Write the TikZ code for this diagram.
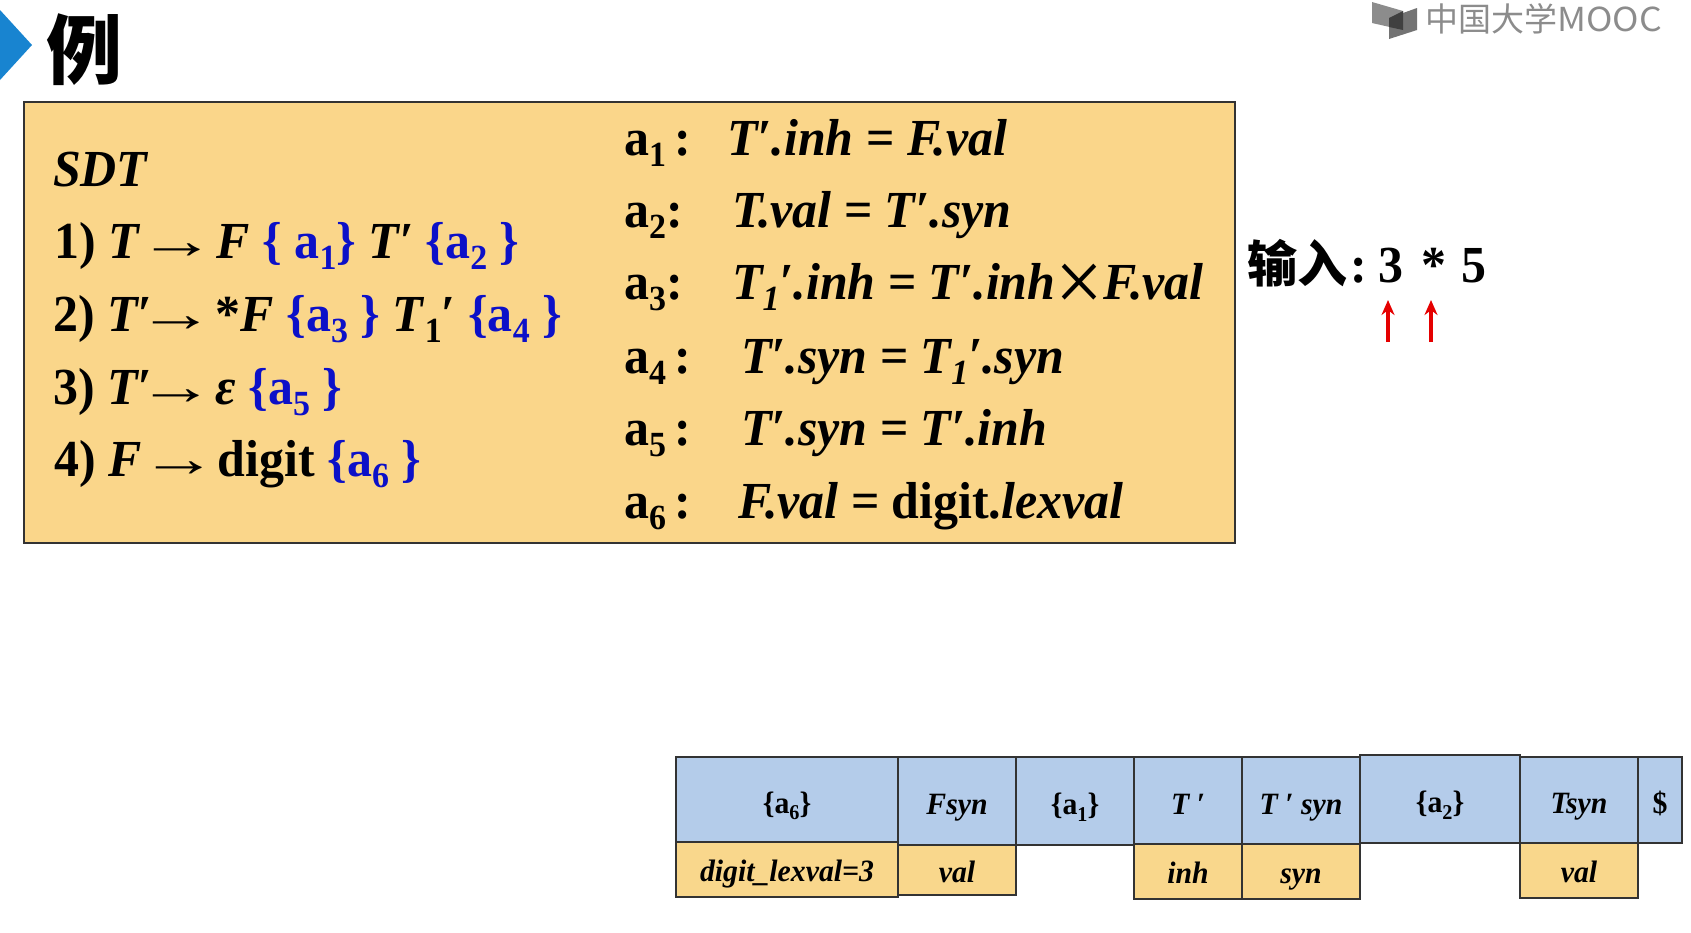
\documentclass[tikz,border=0pt]{standalone}
\usepackage{fontspec}
\setmainfont{Liberation Serif}[FakeStretch=0.96]
\newfontfamily\cjk{Noto Sans CJK SC}
\usepackage{tikz}
\usetikzlibrary{arrows.meta}
\definecolor{boxyellow}{RGB}{250,214,138}
\definecolor{cellblue}{RGB}{180,204,234}
\definecolor{cellyellow}{RGB}{249,215,140}
\definecolor{actblue}{RGB}{12,16,200}
\definecolor{tipblue}{RGB}{24,132,208}
\newcommand{\lowtxt}[1]{\raisebox{-.22em}{\scalebox{.68}{#1}}}
\newcommand{\acttxt}[1]{\textcolor{actblue}{#1}}
\newcommand{\longto}{\hspace{-14pt}\scalebox{1.55}[1]{→}\hspace{-12pt}}
\newcommand{\bigtimes}{\raisebox{-.24em}{\scalebox{1.7}{\textnormal{×}}}}
\tikzset{
	rowtext/.style={anchor=base west,inner sep=0pt,font=\fontsize{52}{52}\selectfont\bfseries},
	cell/.style={draw=black!80,line width=1.4pt,anchor=north west,inner sep=0pt,outer sep=0pt,text depth=0pt,font=\fontsize{31}{31}\selectfont\bfseries},
	redarrow/.style={red!90!black,line width=3.2pt,-{Stealth[length=15pt,width=13pt]}}
}
\begin{document}
\begin{tikzpicture}[x=1pt,y=-1pt]
	\useasboundingbox (0,0) rectangle (1691,932);
	\fill[tipblue] (0,10) -- (32,45) -- (0,80) -- cycle;
	\node[inner sep=0pt,font=\fontsize{76}{76}\selectfont\cjk\bfseries] (title) at (84,50) {例};
	\fill[black!45] (1372,2) -- (1403,11) -- (1403,30) -- (1372,23) -- cycle;
	\fill[black!55] (1389,18) -- (1417,8) -- (1417,30) -- (1389,39) -- cycle;
	\fill[black!75] (1389,18) -- (1403,11) -- (1403,30) -- (1389,27) -- cycle;
	\node[inner sep=0pt,anchor=west,text=black!45,font=\fontsize{33}{33}\selectfont\cjk] (logo) at (1425,19) {中国大学\scalebox{1.08}[1]{MOOC}};
	\node[draw=black!80,line width=1.6pt,fill=boxyellow,anchor=north west,inner sep=0pt,outer sep=0pt,minimum width=1211pt,minimum height=441pt] (sdtbox) at (24,102) {};
	\node[rowtext] (sdt) at (53,186) {\textit{SDT}};
	\node[rowtext] (rule1) at (54,258) {1) \textit{T} \longto{} \textit{F} \acttxt{\{ a\lowtxt{1}\}} \textit{T′} \acttxt{\{a\lowtxt{2} \}}};
	\node[rowtext] (rule2) at (53,331) {2) \textit{T′}\longto{} *\textit{F} \acttxt{\{a\lowtxt{3} \}} \textit{T}\lowtxt{1}′ \acttxt{\{a\lowtxt{4} \}}};
	\node[rowtext] (rule3) at (53,404) {3) \textit{T′}\longto{} \textit{ε} \acttxt{\{a\lowtxt{5} \}}};
	\node[rowtext] (rule4) at (54,476) {4) \textit{F} \longto{} digit \acttxt{\{a\lowtxt{6} \}}};
	\foreach \actname/\y/\x/\txt in {
		one/155/727/{\textit{T′.inh} = \textit{F.val}},
		two/227/732/{\textit{T.val} = \textit{T′.syn}},
		three/299/732/{\textit{T\lowtxt{1}′.inh} = \textit{T′.inh}\bigtimes\textit{F.val}},
		four/373/741/{\textit{T′.syn} = \textit{T\lowtxt{1}′.syn}},
		five/445/741/{\textit{T′.syn} = \textit{T′.inh}},
		six/518/738/{\textit{F.val} = digit.\textit{lexval}}}{
		\node[rowtext] (act\actname) at (\x,\y) {\txt};
	}
	\node[rowtext] (aone) at (624,155) {a\lowtxt{1}\hspace{-4pt} :};
	\node[rowtext] (atwo) at (624,227) {a\lowtxt{2}:};
	\node[rowtext] (athree) at (624,299) {a\lowtxt{3}:};
	\node[rowtext] (afour) at (624,373) {a\lowtxt{4}\hspace{-4pt} :};
	\node[rowtext] (afive) at (624,445) {a\lowtxt{5}\hspace{-4pt} :};
	\node[rowtext] (asix) at (624,518) {a\lowtxt{6}\hspace{-4pt} :};
	\node[rowtext] (input) at (1247,282) {{\cjk\fontsize{50}{50}\selectfont 输入}\hspace{3pt}:\hspace{12pt}3\hspace{5pt} * \hspace{3pt}5};
	\coordinate (low1) at (1388,342);
	\coordinate (top1) at (1388,300);
	\coordinate (low2) at (1431,342);
	\coordinate (top2) at (1431,300);
	\draw[redarrow] (low1) -- (top1);
	\draw[redarrow] (low2) -- (top2);
	\foreach \cellname/\x/\y/\w/\h/\txt in {
		afive/676/757/222/85/{\{a\lowtxt{6}\}},
		fsyn/898/757/118/88/{\textit{Fsyn}},
		aact/1016/757/118/88/{\{a\lowtxt{1}\}},
		tp/1134/757/108/87/{\textit{T ′}},
		tpsyn/1242/757/118/87/{\textit{T ′ syn}},
		atwoact/1360/755/160/88/{\{a\lowtxt{2}\}},
		tsyn/1520/757/118/86/{\textit{Tsyn}},
		end/1638/757/44/86/{\$}}{
		\node[cell,text height=27pt,fill=cellblue,minimum width=\w pt,minimum height=\h pt] (\cellname) at (\x,\y) {\txt};
	}
	\foreach \cellname/\x/\y/\w/\h/\txt in {
		lexval/676/842/222/55/{\textit{digit\_lexval=3}},
		fval/898/845/118/50/{\textit{val}},
		inh/1134/844/108/55/{\textit{inh}},
		syn/1242/844/118/55/{\textit{syn}},
		tval/1520/843/118/55/{\textit{val}}}{
		\node[cell,text height=24pt,fill=cellyellow,minimum width=\w pt,minimum height=\h pt] (\cellname) at (\x,\y) {\txt};
	}
\end{tikzpicture}
\end{document}
